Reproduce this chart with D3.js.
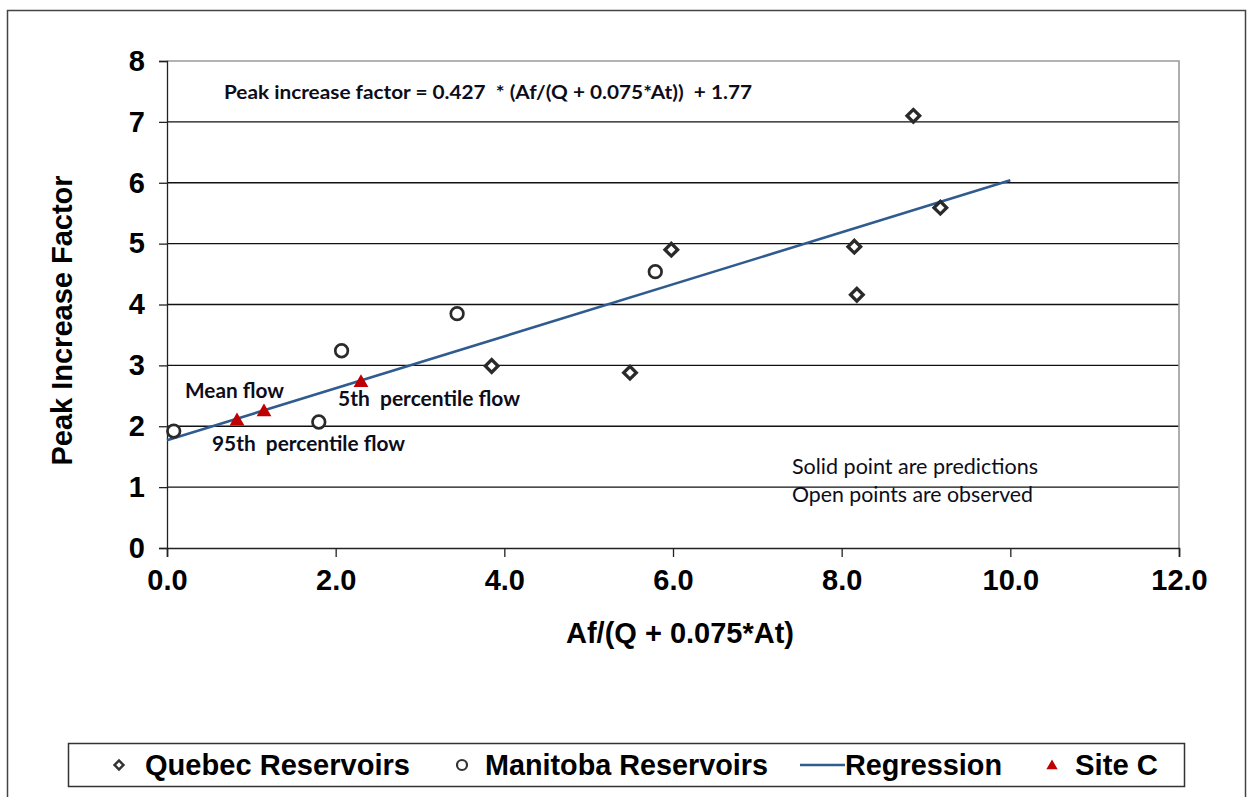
<!DOCTYPE html>
<html>
<head>
<meta charset="utf-8">
<script src="https://cdn.jsdelivr.net/npm/d3@7"></script>
<style>
  html, body { margin: 0; padding: 0; background: #fff; }
  svg { display: block; }
</style>
</head>
<body>
<svg id="chart" width="1247" height="797"></svg>
<script>
// Quebec reservoirs (observed)
const quebecX = [3.85, 5.49, 5.98, 8.15, 8.18, 8.85, 9.17];
const quebecY = [2.99, 2.88, 4.90, 4.95, 4.16, 7.10, 5.59];
// Manitoba reservoirs (observed)
const manitobaX = [0.08, 1.80, 2.07, 3.44, 5.79];
const manitobaY = [1.92, 2.07, 3.24, 3.85, 4.54];
// Site C predictions: 95th percentile, mean, 5th percentile flow
const siteCX = [0.83, 1.15, 2.30];
const siteCY = [2.10, 2.25, 2.73];
// Regression: peak increase factor = slope * x + intercept
const regSlope = 0.427;
const regIntercept = 1.77;
const regX = [0, 10];

const xTicks = [0, 2, 4, 6, 8, 10, 12];
const yTicks = [0, 1, 2, 3, 4, 5, 6, 7, 8];

const svg = d3.select("#chart");
const W = 1247, H = 797;
const plotL = 167, plotR = 1179, plotT = 61, plotB = 548;

const x = d3.scaleLinear().domain([0, 12]).range([plotL, plotR]);
const y = d3.scaleLinear().domain([0, 8]).range([plotB, plotT]);

const arial = "Liberation Sans, Arial, sans-serif";

// Outer frame
svg.append("path")
  .attr("d", `M7.5,${H + 2} V10.5 H1245.5 V${H + 2}`)
  .attr("fill", "none").attr("stroke", "#444").attr("stroke-width", 1.5);

// Horizontal gridlines
svg.append("g").selectAll("line")
  .data(yTicks.filter(d => d > 0 && d < 8))
  .join("line")
  .attr("x1", plotL).attr("x2", plotR)
  .attr("y1", d => y(d)).attr("y2", d => y(d))
  .attr("stroke", "#111").attr("stroke-width", 1.3);

// Plot area top/right border
svg.append("path")
  .attr("d", `M${plotL},${y(8)} H${plotR} V${plotB}`)
  .attr("fill", "none").attr("stroke", "#9a9a9a").attr("stroke-width", 1.6);

// Y axis
const yAxis = svg.append("g")
  .attr("transform", `translate(${plotL},0)`)
  .call(d3.axisLeft(y).tickValues(yTicks).tickSize(8).tickPadding(14).tickFormat(d3.format("d")));
yAxis.select(".domain").attr("stroke", "#222").attr("stroke-width", 1.3);
yAxis.selectAll(".tick line").attr("stroke", "#222").attr("stroke-width", 1.3);
yAxis.selectAll(".tick text")
  .attr("font-family", arial)
  .attr("font-weight", "bold").attr("font-size", 29).attr("fill", "#000");

// X axis
const xAxis = svg.append("g")
  .attr("transform", `translate(0,${plotB})`)
  .call(d3.axisBottom(x).tickValues(xTicks).tickSize(9).tickPadding(12).tickFormat(d3.format(".1f")));
xAxis.select(".domain").attr("stroke", "#222").attr("stroke-width", 1.6);
xAxis.selectAll(".tick line").attr("stroke", "#222").attr("stroke-width", 1.3);
xAxis.selectAll(".tick text")
  .attr("font-family", arial)
  .attr("font-weight", "bold").attr("font-size", 29).attr("fill", "#000");

// Axis titles
svg.append("text")
  .attr("x", 680).attr("y", 643)
  .attr("text-anchor", "middle")
  .attr("font-family", arial)
  .attr("font-weight", "bold").attr("font-size", 29)
  .text("Af/(Q + 0.075*At)");

svg.append("text")
  .attr("transform", `translate(72,${(plotT + plotB) / 2 + 16}) rotate(-90)`)
  .attr("text-anchor", "middle")
  .attr("font-family", arial)
  .attr("font-weight", "bold").attr("font-size", 29)
  .text("Peak Increase Factor");

// Regression line
const regLine = d3.line().x(d => x(d)).y(d => y(regSlope * d + regIntercept));
svg.append("path")
  .datum(regX)
  .attr("d", regLine)
  .attr("fill", "none").attr("stroke", "#2f5b8f").attr("stroke-width", 2.6);

// Markers
const diamond = d3.symbol().type(d3.symbolSquare).size(80);
svg.append("g").selectAll("path")
  .data(d3.zip(quebecX, quebecY))
  .join("path")
  .attr("d", diamond)
  .attr("transform", d => `translate(${x(d[0])},${y(d[1])}) rotate(45)`)
  .attr("fill", "#fff").attr("stroke", "#2a2a2a").attr("stroke-width", 3.3);

svg.append("g").selectAll("circle")
  .data(d3.zip(manitobaX, manitobaY))
  .join("circle")
  .attr("cx", d => x(d[0])).attr("cy", d => y(d[1])).attr("r", 6.3)
  .attr("fill", "#fff").attr("stroke", "#2a2a2a").attr("stroke-width", 2.7);

const tri = d3.symbol().type(d3.symbolTriangle).size(95);
svg.append("g").selectAll("path")
  .data(d3.zip(siteCX, siteCY))
  .join("path")
  .attr("d", tri)
  .attr("transform", d => `translate(${x(d[0])},${y(d[1]) + 1})`)
  .attr("fill", "#c00000");

// Annotations
const calibri = "Lato, Carlito, Calibri, sans-serif";
const note = (tx, ty, str, weight, size, w) =>
  svg.append("text").attr("x", tx).attr("y", ty)
    .attr("font-family", calibri).attr("font-weight", weight)
    .attr("font-size", size).attr("fill", "#0d0d1a")
    .attr("textLength", w).attr("lengthAdjust", "spacingAndGlyphs")
    .style("white-space", "pre").text(str);

note(224, 99, "Peak increase factor = 0.427  * (Af/(Q + 0.075*At))  + 1.77", "bold", 19.5, 528);
note(185, 398, "Mean flow", "bold", 21, 99);
note(212, 451, "95th  percentile flow", "bold", 21, 193);
note(338, 406, "5th  percentile flow", "bold", 21, 182);
note(792, 474, "Solid point are predictions", "normal", 21, 246);
note(792, 502, "Open points are observed", "normal", 21, 241);

// Legend
const lg = svg.append("g");
lg.append("rect")
  .attr("x", 68.5).attr("y", 743.5).attr("width", 1116).attr("height", 43)
  .attr("fill", "#fff").attr("stroke", "#333").attr("stroke-width", 1.5);
const ly = 765;
const legendText = (tx, str, w) =>
  lg.append("text").attr("x", tx).attr("y", ly + 10)
    .attr("font-family", arial).attr("font-weight", "bold")
    .attr("font-size", 29).attr("textLength", w).attr("lengthAdjust", "spacingAndGlyphs")
    .text(str);

lg.append("path").attr("d", d3.symbol().type(d3.symbolSquare).size(40))
  .attr("transform", `translate(119,${ly}) rotate(45)`)
  .attr("fill", "#fff").attr("stroke", "#333").attr("stroke-width", 2.4);
legendText(145, "Quebec Reservoirs", 265);

lg.append("circle").attr("cx", 462).attr("cy", ly).attr("r", 5)
  .attr("fill", "#fff").attr("stroke", "#333").attr("stroke-width", 2.2);
legendText(485, "Manitoba Reservoirs", 283);

lg.append("line").attr("x1", 800).attr("x2", 845).attr("y1", ly).attr("y2", ly)
  .attr("stroke", "#2f5b8f").attr("stroke-width", 2.6);
legendText(845, "Regression", 157);

lg.append("path").attr("d", d3.symbol().type(d3.symbolTriangle).size(55))
  .attr("transform", `translate(1052,${ly + 1})`).attr("fill", "#c00000");
legendText(1075, "Site C", 83);
</script>
</body>
</html>
